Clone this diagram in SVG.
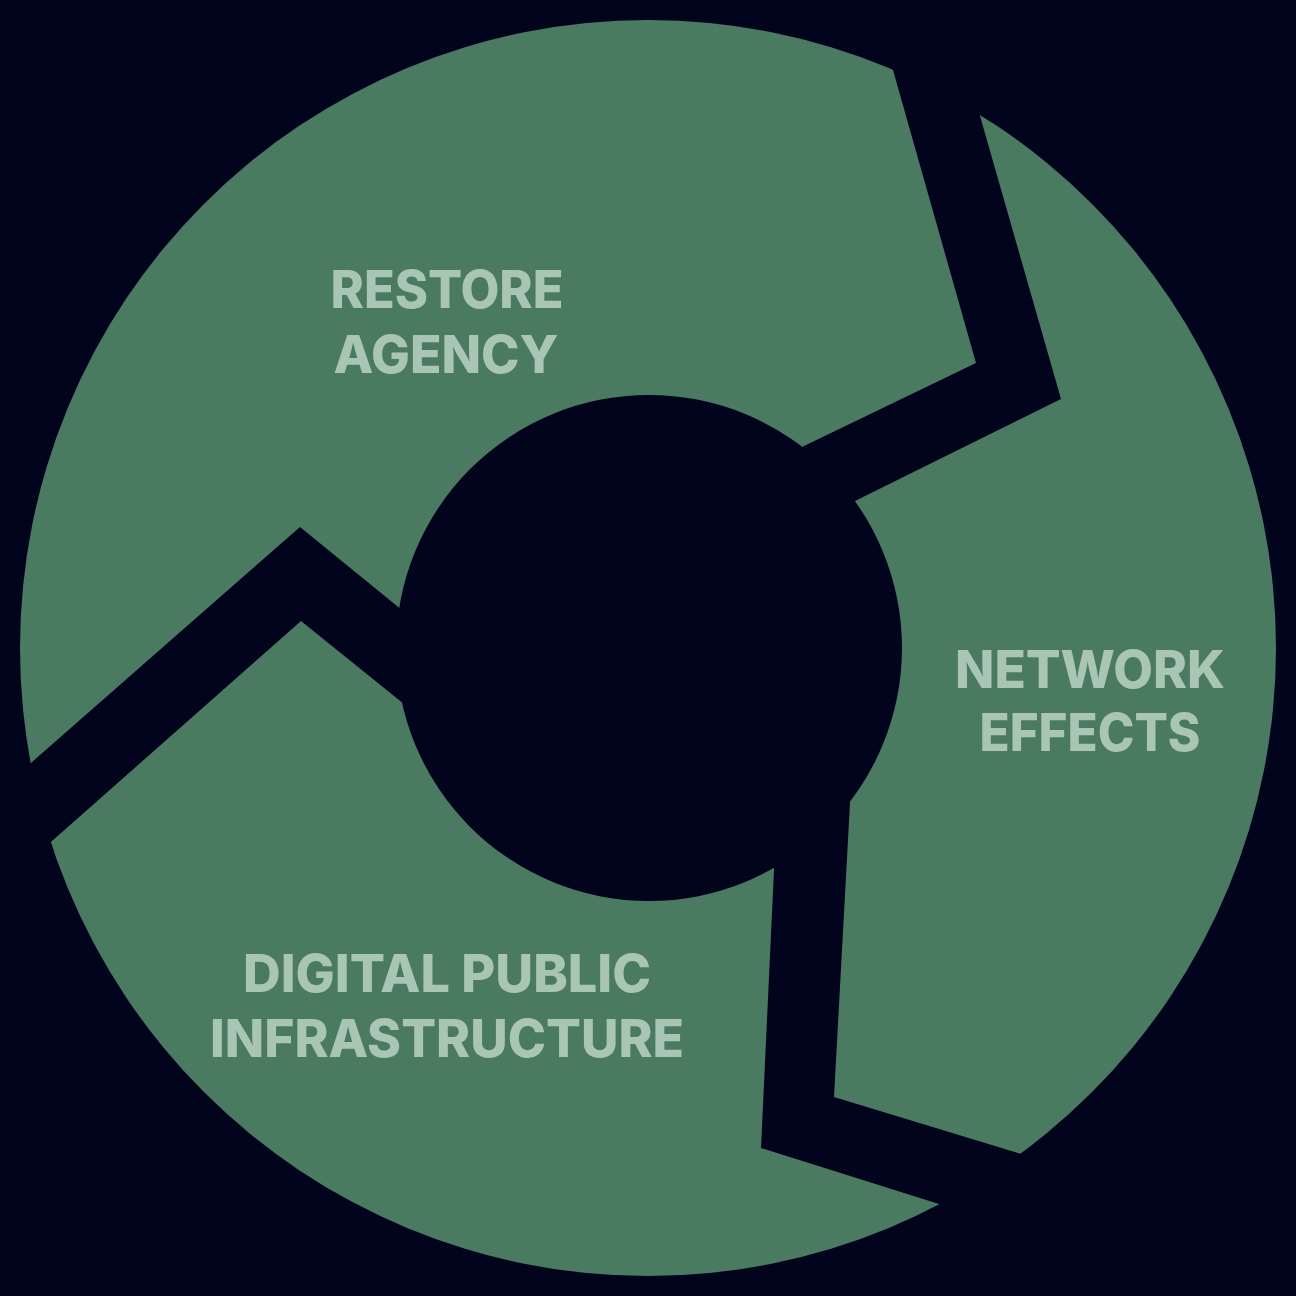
<svg xmlns="http://www.w3.org/2000/svg" width="1296" height="1296" viewBox="0 0 1296 1296">
<style>
.bg{fill:#02041e}
.seg{fill:#4a7a5f}
.gap{fill:#02041e}
.lbl{fill:#a9c5b3;font-family:Inter,"Open Sans","Liberation Sans",sans-serif;font-weight:800;font-size:52px;text-anchor:middle}
</style>
<rect class="bg" x="0" y="0" width="1296" height="1296"/>
<g id="ring">
<circle class="seg" cx="648" cy="648" r="628"/>
</g>
<g id="gaps">
<polygon class="gap" points="880,24 893,70 976,363 804,446 700,496 750,553 857,500 1061,399 980,116 962,52"/>
<polygon class="gap" points="0,790 32,762 300,527 397,606 494,685 497,779 399,700 301,621 52,841 0,887"/>
<polygon class="gap" points="785,640 774,870 761,1148 939,1204 1110,1258 1210,1211 1018,1153 834,1097 850,803 862,590"/>
</g>
<g id="hub">
<circle class="bg" cx="649" cy="648" r="253"/>
</g>
<g id="node-restore-agency">
<text class="lbl" x="447" y="308" textLength="233" lengthAdjust="spacingAndGlyphs">RESTORE</text>
<text class="lbl" x="446" y="373" textLength="225" lengthAdjust="spacingAndGlyphs">AGENCY</text>
</g>
<g id="node-network-effects">
<text class="lbl" x="1090" y="688" textLength="270" lengthAdjust="spacingAndGlyphs">NETWORK</text>
<text class="lbl" x="1090" y="751" textLength="221" lengthAdjust="spacingAndGlyphs">EFFECTS</text>
</g>
<g id="node-digital-public-infrastructure">
<text class="lbl" x="447" y="992" textLength="408" lengthAdjust="spacingAndGlyphs">DIGITAL PUBLIC</text>
<text class="lbl" x="447" y="1057" textLength="474" lengthAdjust="spacingAndGlyphs">INFRASTRUCTURE</text>
</g>
</svg>
